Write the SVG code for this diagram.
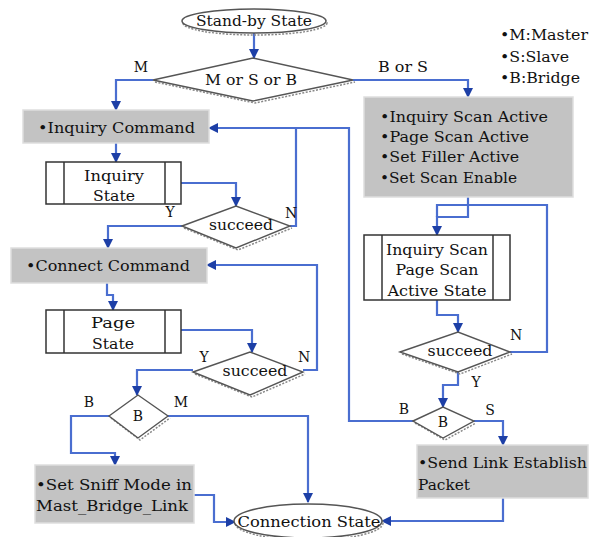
<svg xmlns="http://www.w3.org/2000/svg" width="596" height="537" viewBox="0 0 596 537">
<defs>
<marker id="ah" viewBox="0 0 10 10" refX="9" refY="5" markerWidth="10" markerHeight="10" markerUnits="userSpaceOnUse" orient="auto">
<path d="M0,0 L10,5 L0,10 Z" fill="#1d3fa6"/>
</marker>
<style>
.t{font-family:"DejaVu Serif","Liberation Serif",serif;font-size:14px;fill:#111}
.c{text-anchor:middle}
.box{fill:#c3c3c3;stroke:#dedede;stroke-width:1.5}
.proc{fill:#fff;stroke:#333;stroke-width:1.5}
.dia{fill:#fff;stroke:#555;stroke-width:1.4}
.sh{fill:none;stroke:#888;stroke-width:1.5;stroke-dasharray:2 1.5}
.ell{fill:#fff;stroke:#555;stroke-width:1.5}
.ln{fill:none;stroke:#4a6ed0;stroke-width:2.2;stroke-linejoin:miter}
.ar{marker-end:url(#ah)}
</style>
</defs>
<rect width="596" height="537" fill="#fff"/>

<g id="connectors">
<path class="ln ar" d="M254,33 V58"/>
<path class="ln ar" d="M153,80 H116 V110"/>
<path class="ln ar" d="M353,80 H468 V97"/>
<path class="ln ar" d="M116,143 V162"/>
<path class="ln ar" d="M181,183 H236 V206"/>
<path class="ln ar" d="M182,226 H108 V248"/>
<path class="ln" d="M290,226 H296 V128"/>
<path class="ln ar" d="M413,421 H349 V128 H209"/>
<path class="ln ar" d="M107,283 V295 H113 V310"/>
<path class="ln ar" d="M181,330 H252 V352"/>
<path class="ln ar" d="M303,370 H317 V265 H207"/>
<path class="ln ar" d="M193,370 H137 V395"/>
<path class="ln ar" d="M168,416 H308 V502"/>
<path class="ln ar" d="M109,416 H71 V453 H115 V465"/>
<path class="ln ar" d="M194,495 H214 V522 H235"/>
<path class="ln ar" d="M468,197 V217 H437 V235"/>
<path class="ln" d="M510,352 H547 V205 H437 V217"/>
<path class="ln ar" d="M437,300 V315 H458 V332"/>
<path class="ln ar" d="M458,372 V385 H443 V407"/>
<path class="ln ar" d="M474,421 H503 V445"/>
<path class="ln ar" d="M503,498 V521 H382"/>
</g>

<g id="standby">
<ellipse class="sh" cx="255" cy="23" rx="72" ry="12"/>
<ellipse class="ell" cx="254" cy="21" rx="72" ry="12"/>
<text class="t c" x="254" y="26" textLength="116" lengthAdjust="spacingAndGlyphs">Stand-by State</text>
</g>

<g id="legend">
<text class="t" x="500" y="40" textLength="88" lengthAdjust="spacingAndGlyphs">•M:Master</text>
<text class="t" x="500" y="62" textLength="69" lengthAdjust="spacingAndGlyphs">•S:Slave</text>
<text class="t" x="500" y="83" textLength="80" lengthAdjust="spacingAndGlyphs">•B:Bridge</text>
</g>

<g id="d-mode">
<polyline class="sh" points="155,82 255,103 355,82"/>
<polygon class="dia" points="153,80 253,58 353,80 253,101"/>
<text class="t c" x="251" y="85" textLength="92" lengthAdjust="spacingAndGlyphs">M or S or B</text>
<text class="t c" x="141" y="72">M</text>
<text class="t c" x="403" y="72" textLength="50" lengthAdjust="spacingAndGlyphs">B or S</text>
</g>

<g id="inquiry-cmd">
<rect class="box" x="23" y="110" width="186" height="33"/>
<text class="t" x="38" y="133" textLength="157" lengthAdjust="spacingAndGlyphs">•Inquiry Command</text>
</g>

<g id="scan-box">
<rect class="box" x="364" y="97" width="209" height="100"/>
<text class="t" x="380" y="122" textLength="168" lengthAdjust="spacingAndGlyphs">•Inquiry Scan Active</text>
<text class="t" x="380" y="142" textLength="149" lengthAdjust="spacingAndGlyphs">•Page Scan Active</text>
<text class="t" x="380" y="162" textLength="139" lengthAdjust="spacingAndGlyphs">•Set Filler Active</text>
<text class="t" x="380" y="183" textLength="137" lengthAdjust="spacingAndGlyphs">•Set Scan Enable</text>
</g>

<g id="inquiry-state">
<rect class="proc" x="46" y="162" width="135" height="42"/>
<line class="proc" x1="64" y1="162" x2="64" y2="204"/>
<line class="proc" x1="165" y1="162" x2="165" y2="204"/>
<text class="t c" x="114" y="181" textLength="60" lengthAdjust="spacingAndGlyphs">Inquiry</text>
<text class="t c" x="114" y="201" textLength="42" lengthAdjust="spacingAndGlyphs">State</text>
</g>

<g id="succeed1">
<polyline class="sh" points="184,228 238,250 292,228"/>
<polygon class="dia" points="182,226 236,206 290,226 236,248"/>
<text class="t c" x="241" y="230" textLength="64" lengthAdjust="spacingAndGlyphs">succeed</text>
<text class="t c" x="170" y="217">Y</text>
<text class="t c" x="291" y="218">N</text>
</g>

<g id="connect-cmd">
<rect class="box" x="11" y="248" width="196" height="35"/>
<text class="t" x="26" y="271" textLength="164" lengthAdjust="spacingAndGlyphs">•Connect Command</text>
</g>

<g id="page-state">
<rect class="proc" x="46" y="310" width="135" height="43"/>
<line class="proc" x1="64" y1="310" x2="64" y2="353"/>
<line class="proc" x1="165" y1="310" x2="165" y2="353"/>
<text class="t c" x="113" y="328" textLength="44" lengthAdjust="spacingAndGlyphs">Page</text>
<text class="t c" x="113" y="349" textLength="42" lengthAdjust="spacingAndGlyphs">State</text>
</g>

<g id="succeed2">
<polyline class="sh" points="195,374 252,397 305,374"/>
<polygon class="dia" points="193,372 250,352 303,372 250,395"/>
<text class="t c" x="255" y="376" textLength="65" lengthAdjust="spacingAndGlyphs">succeed</text>
<text class="t c" x="204" y="362">Y</text>
<text class="t c" x="304" y="362">N</text>
</g>

<g id="b-left">
<polyline class="sh" points="111,418 140,440 170,418"/>
<polygon class="dia" points="109,416 138,395 168,416 138,438"/>
<text class="t c" x="138" y="421">B</text>
<text class="t c" x="89" y="407">B</text>
<text class="t c" x="181" y="407">M</text>
</g>

<g id="sniff">
<rect class="box" x="35" y="465" width="159" height="58"/>
<text class="t" x="36" y="490" textLength="156" lengthAdjust="spacingAndGlyphs">•Set  Sniff Mode in</text>
<text class="t" x="36" y="511" textLength="152" lengthAdjust="spacingAndGlyphs">Mast_Bridge_Link</text>
</g>

<g id="connection">
<ellipse class="sh" cx="309" cy="523" rx="74" ry="17"/>
<ellipse class="ell" cx="308" cy="521" rx="74" ry="17"/>
<text class="t c" x="309" y="527" textLength="143" lengthAdjust="spacingAndGlyphs">Connection State</text>
</g>

<g id="scan-state">
<rect class="proc" x="364" y="235" width="146" height="65"/>
<line class="proc" x1="382" y1="235" x2="382" y2="300"/>
<line class="proc" x1="493" y1="235" x2="493" y2="300"/>
<text class="t c" x="437" y="255" textLength="102" lengthAdjust="spacingAndGlyphs">Inquiry Scan</text>
<text class="t c" x="437" y="275" textLength="83" lengthAdjust="spacingAndGlyphs">Page Scan</text>
<text class="t c" x="437" y="296" textLength="99" lengthAdjust="spacingAndGlyphs">Active State</text>
</g>

<g id="succeed3">
<polyline class="sh" points="402,354 460,374 512,354"/>
<polygon class="dia" points="400,352 458,332 510,352 458,372"/>
<text class="t c" x="460" y="356" textLength="65" lengthAdjust="spacingAndGlyphs">succeed</text>
<text class="t c" x="516" y="340">N</text>
<text class="t c" x="476" y="387">Y</text>
</g>

<g id="b-right">
<polyline class="sh" points="415,423 445,440 476,423"/>
<polygon class="dia" points="413,421 443,407 474,421 443,438"/>
<text class="t c" x="443" y="427">B</text>
<text class="t c" x="404" y="414">B</text>
<text class="t c" x="490" y="415">S</text>
</g>

<g id="send-link">
<rect class="box" x="417" y="445" width="171" height="53"/>
<text class="t" x="418" y="468" textLength="169" lengthAdjust="spacingAndGlyphs">•Send Link Establish</text>
<text class="t" x="418" y="490" textLength="52" lengthAdjust="spacingAndGlyphs">Packet</text>
</g>
</svg>
